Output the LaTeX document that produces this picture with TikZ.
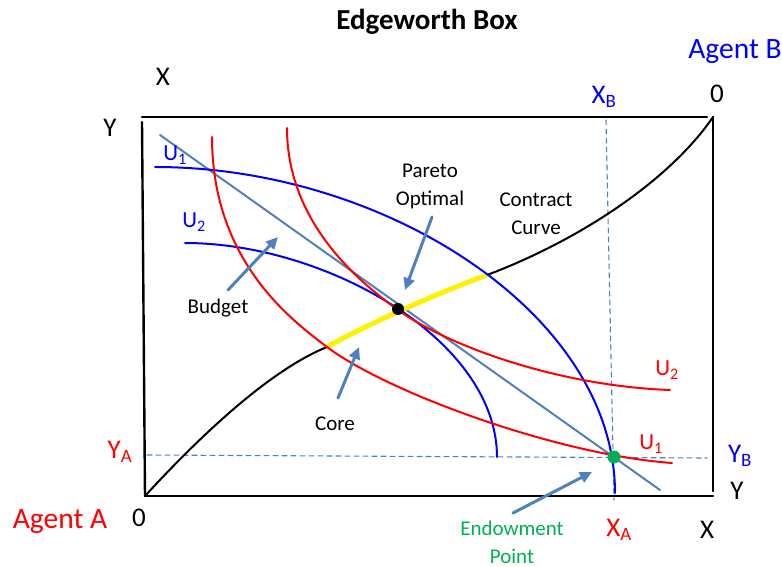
\documentclass[tikz,border=0pt]{standalone}
\usepackage{fontspec}
\setmainfont{Carlito}
\usepackage{tikz}
\usetikzlibrary{arrows.meta}
\usepackage{xcolor}
\definecolor{steel}{RGB}{79,129,189}
\definecolor{endow}{RGB}{0,176,80}

\begin{document}
\begin{tikzpicture}[x=1pt,y=-1pt,line cap=round,
  big/.style={font=\fontsize{27}{30}\selectfont},
  agent/.style={font=\fontsize{29.5}{32}\selectfont},
  small/.style={font=\fontsize{21}{28}\selectfont,align=center},
  ulbl/.style={font=\fontsize{23}{26}\selectfont},
  pointer/.style={steel,line width=3pt,-{Triangle[length=12pt,width=11pt]}},
  guide/.style={steel,line width=1.1pt,dash pattern=on 5pt off 4pt},
  indiff/.style={line width=2pt}]
\useasboundingbox (0,0) rectangle (782,567);
% the box
\draw[line width=2.4pt] (145,496) -- (713,496);
\draw[line width=2.4pt] (145,496) -- (142,122);
\draw[line width=2.4pt] (142,117) -- (707,117);
\draw[line width=2.4pt] (713,117) -- (713,491);
% title and corner labels
\node[font=\fontsize{29}{32}\selectfont\bfseries] (title) at (427,22) {Edgeworth Box};
\node[agent,blue] (agentB) at (735,52) {Agent B};
\node[agent,red] (agentA) at (60,522) {Agent A};
\node[big] (xtop) at (163,77) {X};
\node[big] (ytop) at (110,128) {Y};
\node[big] (zeroB) at (717,94) {0};
\node[big] (zeroA) at (139,518) {0};
\node[big] (xbot) at (707,530) {X};
\node[big] (ybot) at (737,491) {Y};
% endowment guides
\node[big,red] (ya) at (120,452) {Y\textsubscript{A}};
\node[big,blue] (yb) at (740,456) {Y\textsubscript{B}};
\node[big,blue] (xb) at (604,97) {X\textsubscript{B}};
\node[big,red] (xa) at (619,530) {X\textsubscript{A}};
\coordinate (yaend) at (147,455);
\coordinate (ybend) at (707,458);
\coordinate (xbend) at (606,120);
\coordinate (xaend) at (614,500);
\draw[guide] (yaend) -- (ybend);
\draw[guide] (xbend) -- (xaend);
% budget line
\coordinate (budgettop) at (160,135);
\coordinate (budgetend) at (660,490);
\draw[steel,line width=2pt] (budgettop) -- (budgetend);
% contract curve
\coordinate (coreA) at (327,347);
\coordinate (coreB) at (487,275);
\draw[line width=2pt] (145,496) .. controls (200,436) and (270,370) .. (coreA)
  .. controls (360,328) and (430,296) .. (coreB)
  .. controls (580,240) and (670,180) .. (713,117);
\draw[yellow,line width=5pt,line cap=butt] (coreA) .. controls (360,328) and (430,296) .. (coreB);
% agent B (blue)
\draw[indiff,blue] (155,167) .. controls (385,167) and (615,314) .. (615,493);
\draw[indiff,blue] (185,243) .. controls (325,243) and (497,339) .. (497,457);
% agent A (red)
\draw[indiff,red] (212,137) .. controls (212,260) and (290,319) .. (coreA)
  .. controls (390,394) and (560,455) .. (672,463);
\draw[indiff,red] (287,128) .. controls (287,220) and (355,279) .. (398,310)
  .. controls (450,347) and (560,386) .. (670,390);
% curve labels
\node[ulbl,blue] (u1b) at (175,155) {U\textsubscript{1}};
\node[ulbl,blue] (u2b) at (194,222) {U\textsubscript{2}};
\node[ulbl,red] (u2a) at (667,370) {U\textsubscript{2}};
\node[ulbl,red] (u1a) at (651,444) {U\textsubscript{1}};
% points
\node[circle,fill=black,minimum size=12pt,inner sep=0pt] (pareto) at (398,309) {};
\node[circle,fill=endow,minimum size=13pt,inner sep=0pt] (endowment) at (614,457) {};
% text labels and pointers
\node[small] (paretolbl) at (430,186) {Pareto\\Optimal};
\node[small] (contractlbl) at (536,214) {Contract\\Curve};
\node[small] (budgetlbl) at (218,308) {Budget};
\node[small] (corelbl) at (335,424) {Core};
\node[small,endow] (endowlbl) at (512,542) {Endowment\\Point};
\coordinate (paretotail) at (432,217);
\coordinate (paretotip) at (405,290);
\coordinate (budgettail) at (228,290);
\coordinate (budgettip) at (278,237);
\coordinate (coretail) at (338,398);
\coordinate (coretip) at (359,347);
\coordinate (endowtail) at (513,513);
\coordinate (endowtip) at (592,472);
\draw[pointer] (paretotail) -- (paretotip);
\draw[pointer] (budgettail) -- (budgettip);
\draw[pointer] (coretail) -- (coretip);
\draw[pointer] (endowtail) -- (endowtip);
\end{tikzpicture}
\end{document}
